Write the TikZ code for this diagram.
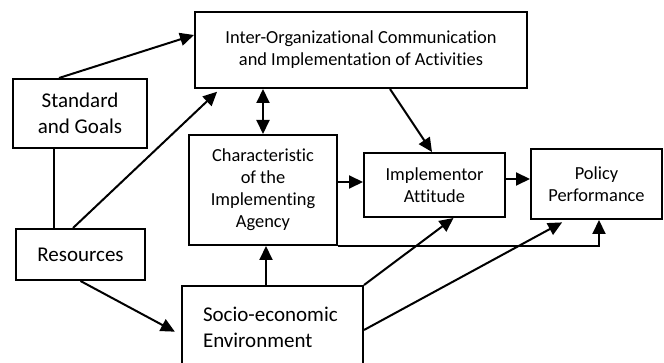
\documentclass[tikz,border=0pt]{standalone}
\usepackage{fontspec}
\setmainfont{Carlito}[Ligatures=NoCommon]
\usetikzlibrary{arrows.meta}

\begin{document}
\begin{tikzpicture}
            \useasboundingbox (0,0) rectangle (332pt,-181.5pt);

            \begin{scope}[every node/.style={rectangle,draw,line width=1pt,align=center,inner sep=0pt,
                                             font=\fontsize{9.2}{11}\selectfont}]
                \node[minimum width=166pt,minimum height=38pt] (comm) at (180.5pt,-25pt)
                    {Inter-Organizational Communication\\and Implementation of Activities};
                \node[minimum width=67pt,minimum height=34.5pt,font=\fontsize{10.5}{13}\selectfont] (goals) at (40pt,-56.75pt)
                    {Standard\\and Goals};
                \node[minimum width=74pt,minimum height=55pt] (agency) at (131.5pt,-95pt)
                    {Characteristic\\of the\\Implementing\\Agency};
                \node[minimum width=70.5pt,minimum height=32pt] (attitude) at (217.25pt,-92.5pt)
                    {Implementor\\Attitude};
                \node[minimum width=65.5pt,minimum height=35pt] (policy) at (298.25pt,-92pt)
                    {Policy\\Performance};
                \node[minimum width=64.5pt,minimum height=25.5pt,font=\fontsize{10.5}{13}\selectfont] (resources) at (40.25pt,-127.25pt)
                    {Resources};
                \node[minimum width=90.5pt,minimum height=41pt,align=left,text width=69.5pt,inner xsep=10.5pt,
                      font=\fontsize{10.5}{13}\selectfont] (socio) at (136.25pt,-163.5pt)
                    {Socio-economic\\Environment};
            \end{scope}

            \begin{scope}[>={Triangle[length=7pt,width=6.5pt]},
                          every edge/.style={draw=black,line width=1pt}]
                \path [->] ([xshift=-10.5pt]goals.north) edge ([yshift=7.5pt]comm.west);
                \path [-] ([xshift=-13pt]goals.south) edge ([xshift=-13pt]goals.south |- resources.north);
                \path [->] ([xshift=-3.75pt]resources.north) edge[shorten >=2pt] ([xshift=-70.5pt]comm.south);
                \path [<->] (agency.north) edge (agency.north |- comm.south);
                \path [->] ([xshift=14.5pt]comm.south) edge ([xshift=-1.25pt]attitude.north);
                \path [->] ([yshift=4pt]agency.east) edge ([yshift=4pt]agency.east -| attitude.west);
                \path [->] ([yshift=3pt]attitude.east) edge ([yshift=3pt]attitude.east -| policy.west);
                \draw [->,line width=1pt] (agency.south east) -| ([xshift=1.25pt]policy.south);
                \path [->] ([xshift=-3.25pt]socio.north) edge ([xshift=-3.25pt]socio.north |- agency.south);
                \path [->] (socio.north east) edge ([xshift=9.5pt]attitude.south);
                \path [->] ([yshift=-1.5pt]socio.east) edge[shorten >=2.5pt] ([xshift=-15pt]policy.south);
                \path [->] (resources.south) edge[shorten >=3.5pt] ([yshift=-4pt]socio.west);
            \end{scope}
            \end{tikzpicture}
\end{document}
